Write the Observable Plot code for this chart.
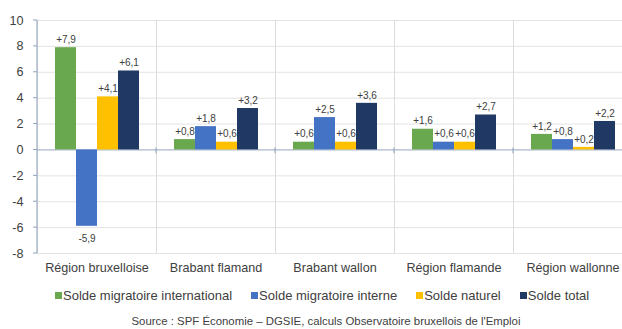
<!DOCTYPE html>
<html>
<head>
<meta charset="utf-8">
<script src="https://cdn.jsdelivr.net/npm/d3@7"></script>
<script src="https://cdn.jsdelivr.net/npm/@observablehq/plot@0.6"></script>
<style>
  html, body { margin: 0; padding: 0; background: #fff; overflow: hidden; }
  body { width: 622px; height: 329px; font-family: "Liberation Sans", Arial, sans-serif; color: #404040; }
  #chart svg { display: block; overflow: visible; }
  .legend { position: absolute; top: 288px; left: 55px; font-size: 13px; white-space: nowrap; }
  .legend span.item { display: inline-block; margin-right: 19px; }
  .legend span.sw { display: inline-block; width: 7px; height: 7px; margin-right: 1px; vertical-align: 1px; }
  .source { position: absolute; top: 315px; left: 0; width: 652px; text-align: center; font-size: 11.4px; color: #404040; }
</style>
</head>
<body>
<div id="chart"></div>
<div class="legend" id="legend"></div>
<div class="source">Source : SPF Économie – DGSIE, calculs Observatoire bruxellois de l'Emploi</div>
<script>
const regions = ["Région bruxelloise", "Brabant flamand", "Brabant wallon", "Région flamande", "Région wallonne"];
const series = ["Solde migratoire international", "Solde migratoire interne", "Solde naturel", "Solde total"];
const intl = [7.9, 0.8, 0.6, 1.6, 1.2];
const interne = [-5.9, 1.8, 2.5, 0.6, 0.8];
const naturel = [4.1, 0.6, 0.6, 0.6, 0.2];
const total = [6.1, 3.2, 3.6, 2.7, 2.2];
const colors = ["#6aa84f", "#4472c4", "#ffc000", "#203864"];
const yTicks = [-8, -6, -4, -2, 0, 2, 4, 6, 8, 10];

const valuesBySeries = [intl, interne, naturel, total];
const data = [];
regions.forEach((r, i) => {
  series.forEach((s, j) => {
    data.push({region: r, series: s, value: valuesBySeries[j][i]});
  });
});

const fmt = v => (v > 0 ? "+" : "-") + Math.abs(v).toFixed(1).replace(".", ",");

const chart = Plot.plot({
  width: 622,
  height: 282,
  marginLeft: 37,
  marginRight: -10,
  marginTop: 20,
  marginBottom: 29,
  style: {fontFamily: "Liberation Sans, Arial, sans-serif", fontSize: "12.6px", color: "#404040", background: "transparent"},
  fx: {domain: regions, padding: 0, label: null, axis: "bottom", tickSize: 0, tickPadding: 10},
  x: {domain: series, axis: null, paddingInner: 0, paddingOuter: 0.73},
  y: {domain: [-8, 10], ticks: yTicks, label: null, tickSize: 0, tickPadding: 14, tickFormat: d => String(d)},
  color: {domain: series, range: colors},
  marks: [
    Plot.ruleY(yTicks.filter(d => d !== 0), {stroke: "#e3e3e3", strokeWidth: 1}),
    Plot.frame({anchor: "left", stroke: "#dcdcdc"}),
    Plot.ruleY([0], {stroke: "#a9b8cc", strokeWidth: 1.2}),
    Plot.barY(data, {fx: "region", x: "series", y: "value", fill: "series", inset: 0}),
    Plot.text(data.filter(d => d.value >= 0), {fx: "region", x: "series", y: "value", text: d => fmt(d.value), dy: -8, fontSize: 10, fill: "#404040"}),
    Plot.text(data.filter(d => d.value < 0), {fx: "region", x: "series", y: "value", text: d => fmt(d.value), dy: 12, fontSize: 10, fill: "#404040"})
  ]
});
document.getElementById("chart").appendChild(chart);

// left axis line with small ticks, and small ticks on the zero line at group boundaries
const y = chart.scale("y");
const fx = chart.scale("fx");
const svg = d3.select(chart);
const g = svg.append("g").attr("stroke", "#8fa3bd");
g.append("line").attr("x1", 37).attr("x2", 37).attr("y1", y.apply(10)).attr("y2", y.apply(-8));
yTicks.forEach(t => {
  g.append("line").attr("x1", 33).attr("x2", 37).attr("y1", y.apply(t)).attr("y2", y.apply(t));
});
regions.slice(1).forEach(r => {
  const xb = fx.apply(r);
  g.append("line").attr("x1", xb).attr("x2", xb).attr("y1", y.apply(0) - 2).attr("y2", y.apply(0) + 4);
});

const legend = document.getElementById("legend");
series.forEach((s, i) => {
  const item = document.createElement("span");
  item.className = "item";
  item.innerHTML = `<span class="sw" style="background:${colors[i]}"></span>${s}`;
  legend.appendChild(item);
});
</script>
</body>
</html>
